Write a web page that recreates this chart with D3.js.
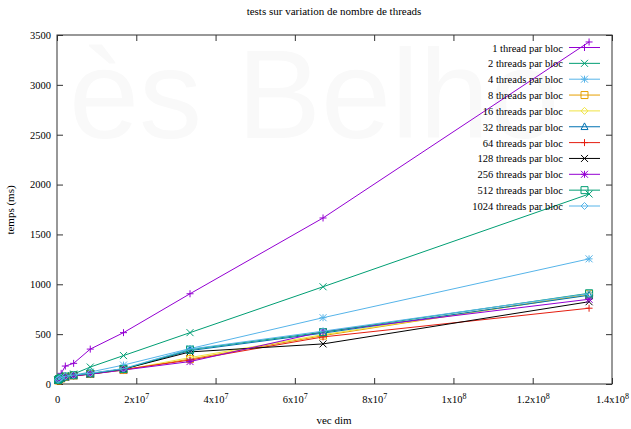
<!DOCTYPE html>
<html>
<head>
<meta charset="utf-8">
<script src="https://cdn.jsdelivr.net/npm/d3@7"></script>
<style>
  body { margin: 0; background: #fff; }
  svg { display: block; }
  svg text { font-family: "Liberation Serif", "DejaVu Serif", serif; }
  svg text.wm { font-family: "Liberation Sans", Arial, sans-serif; }
</style>
</head>
<body>
<div id="chart"></div>
<script>
// vector sizes (2^18 .. 2^27)
const vecDims = [262144, 524288, 1048576, 2097152, 4194304, 8388608, 16777216, 33554432, 67108864, 134217728];

const seriesNames = [
  "1 thread par bloc", "2 threads par bloc", "4 threads par bloc", "8 threads par bloc",
  "16 threads par bloc", "32 threads par bloc", "64 threads par bloc", "128 threads par bloc",
  "256 threads par bloc", "512 threads par bloc", "1024 threads par bloc"
];

// temps (ms) per series
const t1    = [45, 65, 107, 180, 207, 350, 515, 905, 1665, 3430];
const t2    = [40, 55, 70, 85, 100, 170, 285, 515, 975, 1905];
const t4    = [38, 50, 62, 75, 90, 120, 190, 355, 665, 1255];
const t8    = [35, 45, 55, 70, 85, 100, 140, 250, 485, 900];
const t16   = [35, 45, 55, 70, 85, 100, 140, 265, 495, 895];
const t32   = [40, 50, 60, 75, 88, 105, 150, 335, 510, 890];
const t64   = [35, 45, 55, 68, 82, 98, 145, 240, 472, 760];
const t128  = [38, 48, 58, 72, 85, 100, 150, 322, 402, 825];
const t256  = [35, 45, 55, 68, 82, 98, 140, 225, 525, 850];
const t512  = [40, 50, 62, 75, 88, 105, 150, 345, 520, 910];
const t1024 = [42, 52, 64, 77, 90, 108, 155, 350, 530, 905];
const allSeries = [t1, t2, t4, t8, t16, t32, t64, t128, t256, t512, t1024];

const xTickValues = [0, 2e7, 4e7, 6e7, 8e7, 1e8, 1.2e8, 1.4e8];
const xTickLabels = [["0", ""], ["2x10", "7"], ["4x10", "7"], ["6x10", "7"], ["8x10", "7"],
                     ["1x10", "8"], ["1.2x10", "8"], ["1.4x10", "8"]];
const yTickValues = [0, 500, 1000, 1500, 2000, 2500, 3000, 3500];

// gnuplot default line colours and point shapes
const colors = ["#9400d3", "#009e73", "#56b4e9", "#e69f00", "#f0e442", "#0072b2", "#e51e10", "#000000"];
const shapes = ["plus", "cross", "star", "square", "diamond", "triangle"];

const W = 631, H = 429;
const pLeft = 57, pRight = 612, pTop = 35, pBottom = 384;

const svg = d3.select("#chart").append("svg")
  .attr("width", W).attr("height", H);

// faint watermark behind the plot
svg.append("text")
  .attr("class", "wm")
  .attr("x", 69).attr("y", 138)
  .attr("font-size", 126)
  .attr("fill", "#f9f9f9")
  .text("ès Belho");

const x = d3.scaleLinear().domain([0, 1.4e8]).range([pLeft, pRight]);
const y = d3.scaleLinear().domain([0, 3500]).range([pBottom, pTop]);

// axes (ticks inward, mirrored)
const xAxis = svg.append("g")
  .attr("transform", `translate(0,${pBottom})`)
  .call(d3.axisBottom(x).tickValues(xTickValues).tickSize(-6).tickPadding(12).tickFormat(""));
xAxis.selectAll(".tick text").each(function(d, i) {
  const t = d3.select(this);
  t.append("tspan").text(xTickLabels[i][0]);
  if (xTickLabels[i][1]) {
    t.append("tspan").attr("font-size", 8).attr("dy", "-0.5em").text(xTickLabels[i][1]);
  }
});
svg.append("g")
  .attr("transform", `translate(0,${pTop})`)
  .call(d3.axisTop(x).tickValues(xTickValues).tickSize(-6).tickFormat(""));

svg.append("g")
  .attr("transform", `translate(${pLeft},0)`)
  .call(d3.axisLeft(y).tickValues(yTickValues).tickSize(-6).tickPadding(6).tickFormat(d3.format("d")));
svg.append("g")
  .attr("transform", `translate(${pRight},0)`)
  .call(d3.axisRight(y).tickValues(yTickValues).tickSize(-6).tickFormat(""));

svg.selectAll(".domain").remove();
svg.selectAll(".tick line").attr("stroke", "#333");
svg.selectAll(".tick text")
  .attr("font-size", 10.5)
  .attr("fill", "#000");

svg.append("rect")
  .attr("x", pLeft).attr("y", pTop)
  .attr("width", pRight - pLeft).attr("height", pBottom - pTop)
  .attr("fill", "none").attr("stroke", "#333").attr("stroke-width", 1);

// titles
svg.append("text").attr("x", 334).attr("y", 15).attr("text-anchor", "middle")
  .attr("font-size", 11).text("tests sur variation de nombre de threads");
svg.append("text").attr("x", 334).attr("y", 424).attr("text-anchor", "middle")
  .attr("font-size", 11).text("vec dim");
svg.append("text").attr("transform", "translate(14,210) rotate(-90)").attr("text-anchor", "middle")
  .attr("font-size", 11).text("temps (ms)");

function marker(shape, s) {
  switch (shape) {
    case "plus": return `M${-s},0H${s}M0,${-s}V${s}`;
    case "cross": return `M${-s},${-s}L${s},${s}M${-s},${s}L${s},${-s}`;
    case "star": return `M${-s},0H${s}M0,${-s}V${s}M${-s},${-s}L${s},${s}M${-s},${s}L${s},${-s}`;
    case "square": return `M${-s},${-s}H${s}V${s}H${-s}Z`;
    case "diamond": return `M0,${-s}L${s},0L0,${s}L${-s},0Z`;
    case "triangle": return `M0,${-s * 1.1}L${s},${s * 0.8}L${-s},${s * 0.8}Z`;
  }
}

const line = d3.line().x(d => x(d[0])).y(d => y(d[1]));

const plot = svg.append("g");
allSeries.forEach((vals, i) => {
  const col = colors[i % colors.length];
  const shp = shapes[i % shapes.length];
  const pts = vecDims.map((v, j) => [v, vals[j]]);
  const g = plot.append("g");
  g.append("path").datum(pts)
    .attr("fill", "none").attr("stroke", col).attr("stroke-width", 1)
    .attr("d", line);
  g.selectAll("path.pt").data(pts).join("path")
    .attr("class", "pt")
    .attr("transform", d => `translate(${x(d[0])},${y(d[1])})`)
    .attr("d", marker(shp, 3.5))
    .attr("fill", "none").attr("stroke", col).attr("stroke-width", 1);
});

// legend
const legend = svg.append("g");
seriesNames.forEach((name, i) => {
  const col = colors[i % colors.length];
  const shp = shapes[i % shapes.length];
  const ly = 47.5 + i * 15.85;
  legend.append("text").attr("x", 563).attr("y", ly + 4)
    .attr("text-anchor", "end").attr("font-size", 10.5).text(name);
  legend.append("line").attr("x1", 569).attr("x2", 600).attr("y1", ly).attr("y2", ly)
    .attr("stroke", col).attr("stroke-width", 1);
  legend.append("path").attr("transform", `translate(584.5,${ly})`)
    .attr("d", marker(shp, 3.5))
    .attr("fill", "none").attr("stroke", col).attr("stroke-width", 1);
});
</script>
</body>
</html>
